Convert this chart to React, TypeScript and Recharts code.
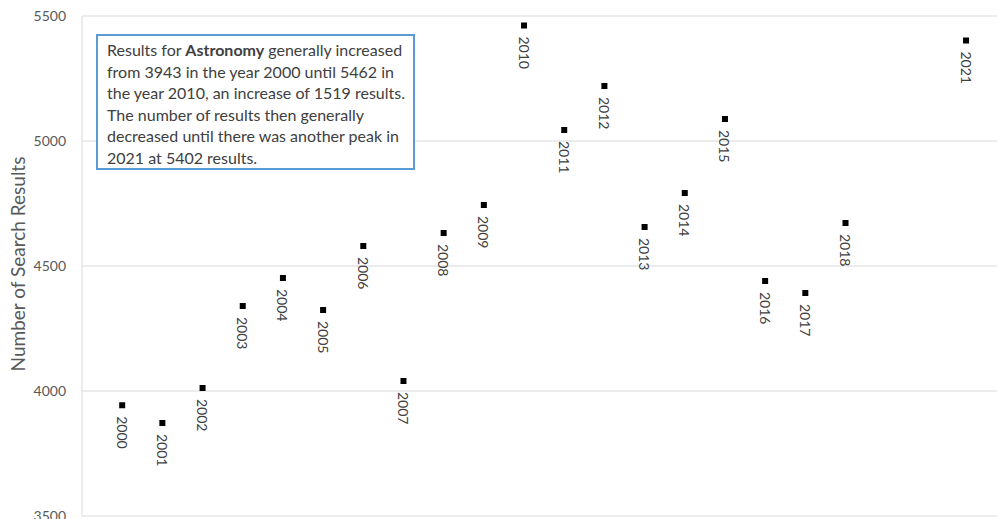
import React from 'react'
import { ScatterChart, Scatter, XAxis, YAxis, CartesianGrid, LabelList } from 'recharts'

const years = [2000, 2001, 2002, 2003, 2004, 2005, 2006, 2007, 2008, 2009, 2010, 2011, 2012, 2013, 2014, 2015, 2016, 2017, 2018, 2021]
const results = [3943, 3872, 4012, 4340, 4452, 4324, 4580, 4040, 4632, 4744, 5462, 5044, 5220, 4656, 4792, 5088, 4440, 4392, 4672, 5402]
const yTicks = [3500, 4000, 4500, 5000, 5500]

const data = years.map((year, i) => ({ year, value: results[i] }))

const FONT = 'Lato, "Open Sans", sans-serif'

function Marker(props: any) {
  const { cx, cy } = props
  return <rect x={cx - 3} y={cy - 3} width={6} height={6} fill="#000" />
}

function YearLabel(props: any) {
  const { x, y, width, height, value } = props
  const cx = x + (width || 0) / 2
  const cy = y + (height || 0) / 2 + 11
  return (
    <text x={cx} y={cy} transform={`rotate(90 ${cx} ${cy})`} textAnchor="start"
      dominantBaseline="central" fontSize={14} fill="#404040" fontFamily={FONT}>
      {value}
    </text>
  )
}

export default function App() {
  return (
    <div style={{ position: 'absolute', left: 0, top: 0, width: 997, height: 519, background: '#fff', fontFamily: FONT }}>
      <ScatterChart width={997} height={519} margin={{ top: 16, right: 0, bottom: 3, left: 0 }}>
        <CartesianGrid vertical={false} stroke="#d9d9d9" />
        <XAxis type="number" dataKey="year" domain={[1999, 2021.77]} hide />
        <YAxis type="number" dataKey="value" domain={[3500, 5500]} ticks={yTicks} width={82} interval={0}
          axisLine={{ stroke: '#d9d9d9' }} tickLine={false} tickSize={6} tickMargin={10}
          tick={{ fontSize: 14, fill: '#595959', fontFamily: FONT }}
          label={{
            content: () => (
              <text x={17} y={264} transform="rotate(-90 17 264)" textAnchor="middle"
                dominantBaseline="central" fontSize={19} fill="#595959" fontFamily={FONT}>
                Number of Search Results
              </text>
            ),
          }} />
        <Scatter data={data} shape={<Marker />} isAnimationActive={false}>
          <LabelList dataKey="year" content={<YearLabel />} />
        </Scatter>
      </ScatterChart>
      <div style={{
        position: 'absolute', left: 96, top: 34, width: 319, height: 136, boxSizing: 'border-box',
        border: '2px solid #5b9bd5', background: '#fff', padding: '3px 9px',
        fontSize: 16, lineHeight: '21.5px', color: '#404040', whiteSpace: 'nowrap',
      }}>
        Results for <b>Astronomy</b> generally increased<br />
        from 3943 in the year 2000 until 5462 in<br />
        the year 2010, an increase of 1519 results.<br />
        The number of results then generally<br />
        decreased until there was another peak in<br />
        2021 at 5402 results.
      </div>
    </div>
  )
}
